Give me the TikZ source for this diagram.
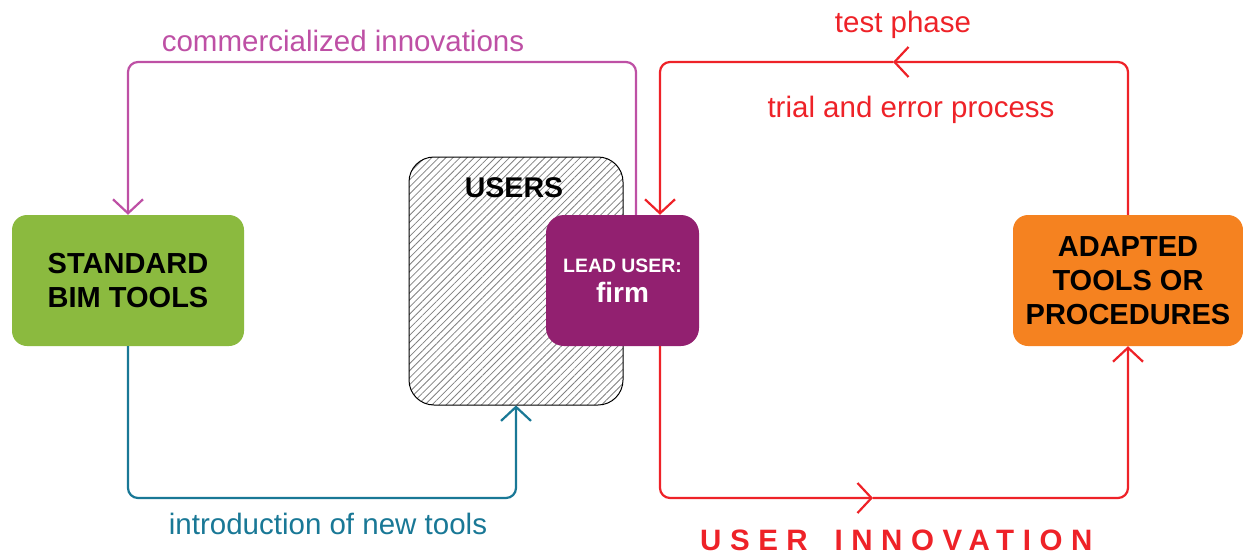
\documentclass[tikz,border=0pt]{standalone}
\usepackage{fontspec}
\setmainfont{Liberation Sans}
\usetikzlibrary{arrows.meta,patterns.meta}
\definecolor{bimgreen}{RGB}{139,186,63}
\definecolor{leadpurple}{RGB}{146,32,112}
\definecolor{adaptorange}{RGB}{245,130,32}
\definecolor{cominn}{RGB}{190,80,165}
\definecolor{introteal}{RGB}{25,120,150}
\definecolor{innred}{RGB}{238,34,40}
\tikzset{
	toolbox/.style={rectangle, rounded corners=15pt, minimum width=232pt, minimum height=131pt, align=center, font=\fontsize{29}{34}\selectfont\bfseries},
	flow/.style={line width=2.2pt, rounded corners=10pt},
	tip/.style={-{Straight Barb[length=14pt,width=30pt]}},
	lbl/.style={anchor=base, inner sep=0pt, font=\fontsize{29.5}{34}\selectfont},
}

\begin{document}
\begin{tikzpicture}[x=1pt, y=-1pt]
				\useasboundingbox (0,0) rectangle (1243,554);
				\node[toolbox, fill=bimgreen] (std)at(128, 280.5) {STANDARD\\BIM TOOLS};
				\node[draw, line width=1pt, rectangle, rounded corners=25pt, minimum width=214pt, minimum height=248pt, pattern={Lines[angle=45, distance=5pt, line width=0.8pt]}, pattern color=gray] (users)at(516, 281) {};
				\node[anchor=base, inner sep=0pt, font=\fontsize{28.5}{34}\selectfont\bfseries] (userstxt)at(514, 197) {USERS};
				\node[toolbox, fill=leadpurple, text=white, minimum width=153pt, rounded corners=18pt] (lead)at(622.5, 280.5) {\fontsize{19.4}{22}\selectfont LEAD USER:\\[-4pt]\fontsize{28}{32}\selectfont firm};
				\node[toolbox, fill=adaptorange, minimum width=230pt] (adapted)at(1128, 280.5) {ADAPTED\\TOOLS OR\\PROCEDURES};
				\coordinate (comtop)at(636, 62);
				\coordinate (introbot)at(516, 498);
				\coordinate (redleft)at(660, 62);
				\coordinate (redbot)at(873, 498);
				\coordinate (redtop)at(893, 62);
				\draw[flow, cominn, tip] (lead.north -| comtop) -- (comtop) -| (std.north);
				\draw[flow, introteal, tip] (std.south) |- (introbot) -- (users.south);
				\draw[flow, innred, tip] (lead.south -| redleft) |- (redbot);
				\draw[flow, innred, tip] (redbot) -| (adapted.south);
				\draw[flow, innred, tip] (adapted.north) |- (redtop);
				\draw[flow, innred, tip] (redtop) -| (lead.north -| redleft);
				\node[lbl, text=cominn] (comlbl)at(343, 51) {commercialized innovations};
				\node[lbl, text=introteal] (introlbl)at(328, 534) {introduction of new tools};
				\node[lbl, text=innred] (testlbl)at(903, 32) {test phase};
				\node[lbl, text=innred] (triallbl)at(911, 117) {trial and error process};
				\node[lbl, anchor=base west, text=innred, font=\fontsize{29.5}{34}\selectfont\bfseries\addfontfeatures{LetterSpace=29}] (innolbl)at(700, 550) {USER\hspace{10pt} INNOVATION};
			\end{tikzpicture}
\end{document}
